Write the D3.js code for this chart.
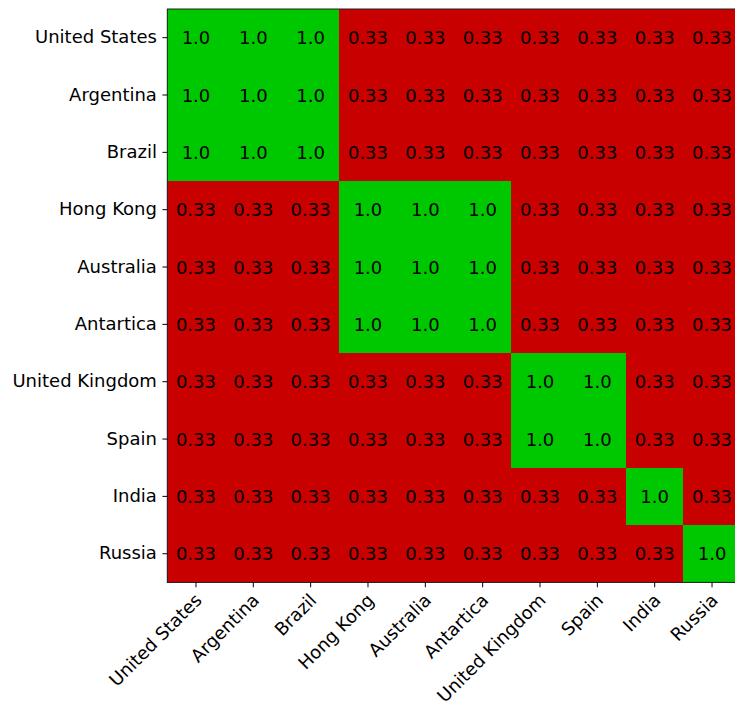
<!DOCTYPE html>
<html>
<head>
<meta charset="utf-8">
<script src="https://cdn.jsdelivr.net/npm/d3@7"></script>
<style>
  html, body { margin: 0; padding: 0; background: #fff; }
  svg { display: block; }
  text { font-family: "DejaVu Sans", sans-serif; }
</style>
</head>
<body>
<script>
// Country labels, shared by both axes
const countries = ["United States", "Argentina", "Brazil", "Hong Kong", "Australia",
  "Antartica", "United Kingdom", "Spain", "India", "Russia"];

// Similarity matrix, one row per country
const matrix = [
  [1.0, 1.0, 1.0, 0.33, 0.33, 0.33, 0.33, 0.33, 0.33, 0.33],
  [1.0, 1.0, 1.0, 0.33, 0.33, 0.33, 0.33, 0.33, 0.33, 0.33],
  [1.0, 1.0, 1.0, 0.33, 0.33, 0.33, 0.33, 0.33, 0.33, 0.33],
  [0.33, 0.33, 0.33, 1.0, 1.0, 1.0, 0.33, 0.33, 0.33, 0.33],
  [0.33, 0.33, 0.33, 1.0, 1.0, 1.0, 0.33, 0.33, 0.33, 0.33],
  [0.33, 0.33, 0.33, 1.0, 1.0, 1.0, 0.33, 0.33, 0.33, 0.33],
  [0.33, 0.33, 0.33, 0.33, 0.33, 0.33, 1.0, 1.0, 0.33, 0.33],
  [0.33, 0.33, 0.33, 0.33, 0.33, 0.33, 1.0, 1.0, 0.33, 0.33],
  [0.33, 0.33, 0.33, 0.33, 0.33, 0.33, 0.33, 0.33, 1.0, 0.33],
  [0.33, 0.33, 0.33, 0.33, 0.33, 0.33, 0.33, 0.33, 0.33, 1.0]
];

const width = 735, height = 707;
const margin = { left: 167.3, top: 9, size: 573.4 };
const fontSize = 18;
const tickLen = 4.9, tickPad = 5.5;

const svg = d3.select("body").append("svg")
  .attr("width", width).attr("height", height);

const x = d3.scaleBand().domain(countries)
  .range([margin.left, margin.left + margin.size]).padding(0);
const y = d3.scaleBand().domain(countries)
  .range([margin.top, margin.top + margin.size]).padding(0);

const color = d3.scaleThreshold().domain([0.5]).range(["#c80000", "#00c800"]);
const fmt = v => v === 1 ? "1.0" : String(v);

const cells = [];
matrix.forEach((row, i) => row.forEach((v, j) => cells.push({ r: countries[i], c: countries[j], v })));

svg.append("g").selectAll("rect").data(cells).join("rect")
  .attr("x", d => x(d.c))
  .attr("y", d => y(d.r))
  .attr("width", x.bandwidth() + 0.5)
  .attr("height", y.bandwidth() + 0.5)
  .attr("fill", d => color(d.v))
  .attr("shape-rendering", "crispEdges");

svg.append("g").selectAll("text").data(cells).join("text")
  .attr("x", d => x(d.c) + x.bandwidth() / 2)
  .attr("y", d => y(d.r) + y.bandwidth() / 2)
  .attr("text-anchor", "middle")
  .attr("dominant-baseline", "central")
  .attr("font-size", fontSize)
  .attr("fill", "#000")
  .text(d => fmt(d.v));

// Frame
svg.append("rect")
  .attr("x", margin.left).attr("y", margin.top)
  .attr("width", margin.size).attr("height", margin.size)
  .attr("fill", "none").attr("stroke", "#222").attr("stroke-width", 1);

// Y axis
const yAxis = svg.append("g")
  .attr("transform", `translate(${margin.left},0)`)
  .call(d3.axisLeft(y).tickSize(tickLen).tickPadding(tickPad));
yAxis.select(".domain").remove();
yAxis.selectAll("text").attr("font-size", fontSize).attr("fill", "#000")
  .attr("font-family", "DejaVu Sans");
yAxis.selectAll("line").attr("stroke", "#000");

// X axis, labels rotated 45 degrees
const xAxis = svg.append("g")
  .attr("transform", `translate(0,${margin.top + margin.size})`)
  .call(d3.axisBottom(x).tickSize(tickLen).tickPadding(tickPad));
xAxis.select(".domain").remove();
xAxis.selectAll("line").attr("stroke", "#000");
xAxis.selectAll("text")
  .attr("font-size", fontSize).attr("fill", "#000").attr("font-family", "DejaVu Sans")
  .attr("text-anchor", "end")
  .attr("dy", null)
  .attr("y", null)
  .attr("transform", "translate(7,19) rotate(-45)");
</script>
</body>
</html>
